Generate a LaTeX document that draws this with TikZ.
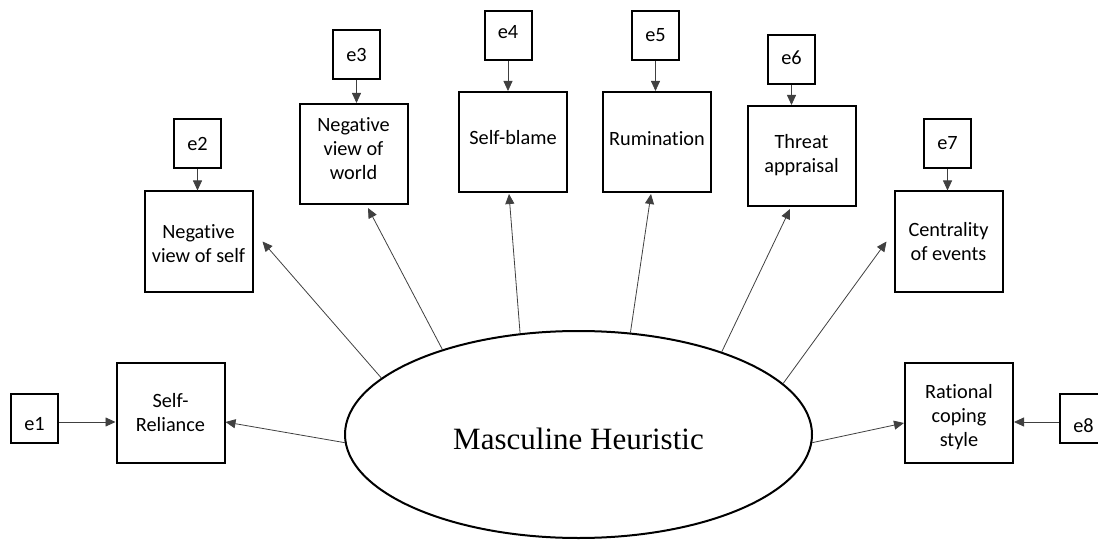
\documentclass[tikz,border=0pt]{standalone}
\usepackage{fontspec}
\setmainfont{Liberation Serif}
\newfontfamily\boxfont[Ligatures={NoCommon}]{Carlito}
\usetikzlibrary{shapes.geometric,arrows.meta}

\begin{document}
\begin{tikzpicture}[x=1pt,y=-1pt,
  item/.style={draw, line width=2pt, minimum width=108pt, minimum height=100pt, inner sep=0pt},
  err/.style={draw, line width=2pt, minimum width=47pt, minimum height=49pt, inner sep=0pt},
  txt/.style={inner sep=0pt, align=center, font=\boxfont\fontsize{20.3}{24}\selectfont},
  link/.style={draw=black!75, line width=0.8pt, -{Triangle[length=10pt,width=9pt]}}
]
\useasboundingbox (0,0) rectangle (1098,540);

% latent factor
\node[ellipse, draw, line width=2pt, minimum width=467pt, minimum height=207pt,
  inner sep=0pt, text height=29pt, text depth=0pt,
  font=\fontsize{31}{36}\selectfont] (mh) at (578.5,434.5) {Masculine Heuristic};

% indicator boxes
\node[item] (sr)  at (170.5,412.5) {};
\node[item] (nvs) at (198.5,241.5) {};
\node[item] (nvw) at (353.5,154)   {};
\node[item] (sb)  at (513,142)     {};
\node[item] (rum) at (657,142)     {};
\node[item] (thr) at (801.5,156)   {};
\node[item] (cen) at (948.5,241.5) {};
\node[item] (rat) at (959,412.5)   {};

% indicator labels
\node[txt] (srT)  at (sr)                   {Self-\\Reliance};
\node[txt] (nvsT) at ([yshift=-2pt]nvs)     {Negative\\view of self};
\node[txt] (nvwT) at ([yshift=5pt]nvw)      {Negative\\view of\\world};
\node[txt] (sbT)  at ([yshift=4pt]sb)       {Self-blame};
\node[txt] (rumT) at ([yshift=3pt]rum)      {Rumination};
\node[txt] (thrT) at ([yshift=1pt]thr)      {Threat\\appraisal};
\node[txt] (cenT) at (cen)                  {Centrality\\of events};
\node[txt] (ratT) at ([yshift=-5pt]rat)     {Rational\\coping\\style};

% error terms
\node[err] (e1) at (34.5,418.5)   {};
\node[err] (e2) at (197.5,143.5)  {};
\node[err] (e3) at (356.5,55)     {};
\node[err] (e4) at (508,36)       {};
\node[err] (e5) at (655.5,36)     {};
\node[err] (e6) at (791.5,59.5)   {};
\node[err] (e7) at (947.5,143.5)  {};
\node[err] (e8) at (1083.5,418.5) {};

\node[txt] (e1T) at ([yshift=-6pt]e1) {e1};
\node[txt] (e2T) at (e2)              {e2};
\node[txt] (e3T) at (e3)              {e3};
\node[txt] (e4T) at ([yshift=4pt]e4)  {e4};
\node[txt] (e5T) at ([yshift=1pt]e5)  {e5};
\node[txt] (e6T) at ([yshift=2pt]e6)  {e6};
\node[txt] (e7T) at (e7)              {e7};
\node[txt] (e8T) at ([yshift=-7pt]e8) {e8};

% loadings
\draw[link] (mh.182) -- ([shift={(0,9.5)}]sr.east);
\draw[link] (mh.164) -- ([shift={(9,0)}]nvs.east);
\draw[link] (mh.148) -- ([shift={(14.5,3)}]nvw.south);
\draw[link] (mh.120) -- ([shift={(-4,1)}]sb.south);
\draw[link] (mh.63)  -- ([shift={(-6,1)}]rum.south);
\draw[link] (mh.30)  -- ([shift={(-11.5,2)}]thr.south);
\draw[link] (mh.14)  -- ([shift={(-7,0)}]cen.west);
\draw[link] (mh.358) -- ([shift={(0,10.5)}]rat.west);

% error paths
\draw[link] ([shift={(0,3.5)}]e1.east) -- ([shift={(0,9.5)}]sr.west);
\draw[link] (e2.south) -- (e2.south |- nvs.north);
\draw[link] (e3.south) -- (e3.south |- nvw.north);
\draw[link] (e4.south) -- (e4.south |- sb.north);
\draw[link] (e5.south) -- (e5.south |- rum.north);
\draw[link] (e6.south) -- (e6.south |- thr.north);
\draw[link] (e7.south) -- (e7.south |- cen.north);
\draw[link] ([shift={(0,3.5)}]e8.west) -- ([shift={(0,9.5)}]rat.east);
\end{tikzpicture}
\end{document}
